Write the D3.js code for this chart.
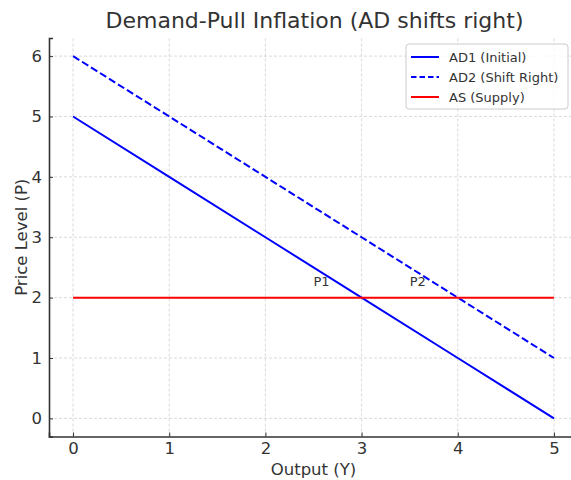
<!DOCTYPE html>
<html><head><meta charset="utf-8">
<script src="https://cdn.jsdelivr.net/npm/d3@7"></script>
<style>body{margin:0;background:#fff;} text{font-family:"DejaVu Sans",sans-serif;fill:#333;}</style>
</head><body>
<svg id="c" width="571" height="480"></svg>
<script>
const outputX = [0, 1, 2, 3, 4, 5];
const ad1 = [5, 4, 3, 2, 1, 0];
const ad2 = [6, 5, 4, 3, 2, 1];
const as = [2, 2, 2, 2, 2, 2];
const xTicks = [0, 1, 2, 3, 4, 5];
const yTicks = [0, 1, 2, 3, 4, 5, 6];
const points = [{label: "P1", x: 2.5, y: 2.2}, {label: "P2", x: 3.5, y: 2.2}];
const seriesNames = ["AD1 (Initial)", "AD2 (Shift Right)", "AS (Supply)"];

const svg = d3.select("#c");
const x = d3.scaleLinear().domain([-0.25, 5.25]).range([49, 578]);
const y = d3.scaleLinear().domain([-0.3, 6.3]).range([436.5, 38]);

// grid
const g = svg.append("g");
g.selectAll(".gx").data(xTicks).join("line")
  .attr("x1", d => x(d)).attr("x2", d => x(d)).attr("y1", y(-0.3)).attr("y2", y(6.3))
  .attr("stroke", "#d0d0d0").attr("stroke-width", 0.8).attr("stroke-dasharray", "3,2");
g.selectAll(".gy").data(yTicks).join("line")
  .attr("x1", x(-0.25)).attr("x2", x(5.25)).attr("y1", d => y(d)).attr("y2", d => y(d))
  .attr("stroke", "#d0d0d0").attr("stroke-width", 0.8).attr("stroke-dasharray", "3,2");

const line = d3.line().x((d, i) => x(outputX[i])).y(d => y(d));
svg.append("path").attr("d", line(ad1)).attr("fill", "none").attr("stroke", "#0000ff").attr("stroke-width", 2);
svg.append("path").attr("d", line(ad2)).attr("fill", "none").attr("stroke", "#0000ff").attr("stroke-width", 2).attr("stroke-dasharray", "7.4,3.2");
svg.append("path").attr("d", line(as)).attr("fill", "none").attr("stroke", "#ff0000").attr("stroke-width", 2);

svg.selectAll(".pl").data(points).join("text")
  .attr("x", d => x(d.x)).attr("y", d => y(d.y)).attr("font-size", 13).text(d => d.label);

// axes
const xa = svg.append("g").attr("transform", `translate(0,${y(-0.3)})`)
  .call(d3.axisBottom(x).tickValues(xTicks).tickSize(-4).tickPadding(6).tickFormat(d3.format("d")));
const ya = svg.append("g").attr("transform", `translate(${x(-0.25)},0)`)
  .call(d3.axisLeft(y).tickValues(yTicks).tickSize(-4).tickPadding(7).tickFormat(d3.format("d")));
[xa, ya].forEach(a => {
  a.select(".domain").attr("stroke", "#333").attr("stroke-width", 1.6);
  a.selectAll(".tick line").attr("stroke", "#333").attr("stroke-width", 1);
  a.selectAll(".tick text").attr("font-size", 16.5).attr("fill", "#333").style("font-family", "DejaVu Sans");
});

svg.append("text").attr("x", 314.5).attr("y", 28).attr("text-anchor", "middle").attr("font-size", 22).text("Demand-Pull Inflation (AD shifts right)");
svg.append("text").attr("x", 313.5).attr("y", 475).attr("text-anchor", "middle").attr("font-size", 16.5).text("Output (Y)");
svg.append("text").attr("transform", `translate(27,${y(3)}) rotate(-90)`).attr("text-anchor", "middle").attr("font-size", 16.5).text("Price Level (P)");

// legend
const lg = svg.append("g").attr("transform", "translate(406,44)");
lg.append("rect").attr("x", 0).attr("y", 0).attr("width", 162).attr("height", 65).attr("rx", 3)
  .attr("fill", "#fff").attr("fill-opacity", 0.8).attr("stroke", "#ccc");
const styles = [{c: "#0000ff", d: null}, {c: "#0000ff", d: "5.5,3"}, {c: "#ff0000", d: null}];
seriesNames.forEach((n, i) => {
  const yy = 13 + i * 20;
  lg.append("line").attr("x1", 5).attr("x2", 33).attr("y1", yy).attr("y2", yy)
    .attr("stroke", styles[i].c).attr("stroke-width", 2).attr("stroke-dasharray", styles[i].d);
  lg.append("text").attr("x", 43).attr("y", yy + 4.5).attr("font-size", 13).text(n);
});
</script>
</body></html>
